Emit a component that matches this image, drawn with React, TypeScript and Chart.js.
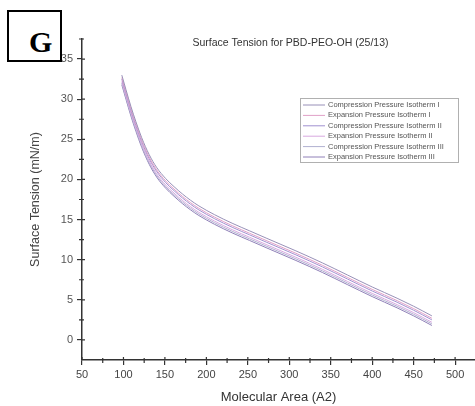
import React, { useEffect, useRef } from "react";
import { Chart, registerables } from "chart.js";

Chart.register(...registerables);

const areas = [98, 103, 109, 115, 122, 131, 140, 151, 161, 171, 181, 191, 210, 232, 252, 272, 290, 308, 340, 370, 400, 430, 450, 472];

const compressionI = [33.0, 31.2, 29.1, 27.2, 25.2, 23.1, 21.5, 20.1, 19.1, 18.2, 17.4, 16.7, 15.6, 14.5, 13.6, 12.7, 11.9, 11.1, 9.6, 8.1, 6.6, 5.2, 4.2, 3.0];
const expansionI = [32.7, 30.9, 28.8, 26.9, 24.9, 22.8, 21.2, 19.8, 18.8, 17.9, 17.1, 16.4, 15.3, 14.2, 13.3, 12.4, 11.6, 10.8, 9.3, 7.8, 6.3, 4.9, 3.9, 2.7];
const compressionII = [32.5, 30.7, 28.6, 26.7, 24.7, 22.6, 21.0, 19.6, 18.6, 17.7, 16.9, 16.2, 15.1, 14.0, 13.1, 12.2, 11.4, 10.6, 9.1, 7.6, 6.1, 4.7, 3.7, 2.5];
const expansionII = [32.2, 30.4, 28.3, 26.4, 24.4, 22.3, 20.7, 19.3, 18.3, 17.4, 16.6, 15.9, 14.8, 13.7, 12.8, 11.9, 11.1, 10.3, 8.8, 7.3, 5.8, 4.4, 3.4, 2.2];
const compressionIII = [32.0, 30.2, 28.1, 26.2, 24.2, 22.1, 20.5, 19.1, 18.1, 17.2, 16.4, 15.7, 14.6, 13.5, 12.6, 11.7, 10.9, 10.1, 8.6, 7.1, 5.6, 4.2, 3.2, 2.0];
const expansionIII = [31.8, 30.0, 27.9, 26.0, 24.0, 21.9, 20.3, 18.9, 17.9, 17.0, 16.2, 15.5, 14.4, 13.3, 12.4, 11.5, 10.7, 9.9, 8.4, 6.9, 5.4, 4.0, 3.0, 1.8];

const seriesLabels = [
  "Compression Pressure Isotherm I",
  "Expansion Pressure Isotherm I",
  "Compression Pressure Isotherm II",
  "Expansion Pressure Isotherm II",
  "Compression Pressure Isotherm III",
  "Expansion Pressure Isotherm III",
];
const seriesValues = [compressionI, expansionI, compressionII, expansionII, compressionIII, expansionIII];
const seriesColors = ["#9890b8", "#e0a0c8", "#a090d0", "#d8a8e0", "#b0b0d0", "#9080b8"];

const xMajorTicks = [50, 100, 150, 200, 250, 300, 350, 400, 450, 500];
const xMinorTicks = [75, 125, 175, 225, 275, 325, 375, 425, 475];
const yMajorTicks = [0, 5, 10, 15, 20, 25, 30, 35];
const yMinorTicks = [2.5, 7.5, 12.5, 17.5, 22.5, 27.5, 32.5, 37.5];

const chartTitle = "Surface Tension for PBD-PEO-OH (25/13)";
const xTitle = "Molecular Area (A2)";
const yTitle = "Surface Tension (mN/m)";

const FONT = "'Liberation Sans', Arial, sans-serif";

const decorPlugin = {
  id: "decor",
  afterDraw(chart: any) {
    const ctx = chart.ctx;
    const { left, right, top, bottom } = chart.chartArea;
    const xs = chart.scales.x;
    const ys = chart.scales.y;
    ctx.save();
    ctx.strokeStyle = "#333";
    ctx.lineWidth = 1.2;
    ctx.beginPath();
    xMajorTicks.forEach((v) => {
      const px = xs.getPixelForValue(v);
      ctx.moveTo(px, bottom);
      ctx.lineTo(px, bottom - 3);
    });
    yMajorTicks.forEach((v) => {
      const py = ys.getPixelForValue(v);
      ctx.moveTo(left, py);
      ctx.lineTo(left + 3, py);
    });
    xMinorTicks.forEach((v) => {
      const px = xs.getPixelForValue(v);
      if (px > right) return;
      ctx.moveTo(px, bottom + 3);
      ctx.lineTo(px, bottom - 2);
    });
    yMinorTicks.forEach((v) => {
      const py = ys.getPixelForValue(v);
      if (py < top - 1) return;
      ctx.moveTo(left - 3, py);
      ctx.lineTo(left + 2, py);
    });
    ctx.stroke();

    ctx.fillStyle = "#333";
    ctx.font = `10.5px ${FONT}`;
    ctx.textAlign = "center";
    ctx.textBaseline = "middle";
    ctx.fillText(chartTitle, (left + right) / 2 + 12, top + 4);

    const lx = right - 175;
    const ly = top + 59;
    const lw = 158;
    const lh = 64;
    ctx.strokeStyle = "#b0b0b0";
    ctx.lineWidth = 1;
    ctx.strokeRect(lx + 0.5, ly + 0.5, lw, lh);
    ctx.font = `7.5px ${FONT}`;
    ctx.textAlign = "left";
    ctx.fillStyle = "#555";
    chart.data.datasets.forEach((ds: any, i: number) => {
      const y = ly + 7 + i * 10.4;
      ctx.strokeStyle = ds.borderColor;
      ctx.beginPath();
      ctx.moveTo(lx + 3, y);
      ctx.lineTo(lx + 25, y);
      ctx.stroke();
      ctx.fillText(ds.label, lx + 28, y);
    });
    ctx.restore();
  },
};

export default function App() {
  const canvasRef = useRef<HTMLCanvasElement | null>(null);

  useEffect(() => {
    const canvas = canvasRef.current;
    if (!canvas) return;
    const chart = new Chart(canvas, {
      type: "line",
      data: {
        labels: areas,
        datasets: seriesLabels.map((label, i) => ({
          label,
          data: seriesValues[i].map((v, j) => ({ x: areas[j], y: v })),
          borderColor: seriesColors[i],
          backgroundColor: seriesColors[i],
          borderWidth: 1,
          pointRadius: 0,
          cubicInterpolationMode: "monotone",
          fill: false,
        })),
      },
      options: {
        responsive: false,
        animation: false,
        layout: { padding: { top: 39, right: 0, left: 0, bottom: 0 } },
        plugins: {
          legend: { display: false },
          title: { display: false },
          tooltip: { enabled: false },
        },
        scales: {
          x: {
            type: "linear",
            min: 50,
            max: 524,
            afterBuildTicks: (scale: any) => {
              scale.ticks = xMajorTicks.map((v) => ({ value: v }));
            },
            afterFit: (scale: any) => {
              scale.height = 46;
            },
            grid: { display: true, drawOnChartArea: false, tickLength: 5, color: "#333", lineWidth: 1.2 },
            border: { display: true, color: "#333", width: 1.5 },
            ticks: {
              font: { family: FONT, size: 11 },
              color: "#444",
              padding: 3,
              maxRotation: 0,
              autoSkip: false,
            },
            title: {
              display: true,
              text: xTitle,
              font: { family: FONT, size: 13 },
              color: "#333",
              padding: { top: 0, bottom: 1 },
            },
          },
          y: {
            type: "linear",
            min: -2.5,
            max: 37.5,
            afterBuildTicks: (scale: any) => {
              scale.ticks = yMajorTicks.map((v) => ({ value: v }));
            },
            afterFit: (scale: any) => {
              scale.width = 82;
            },
            grid: { display: true, drawOnChartArea: false, tickLength: 5, color: "#333", lineWidth: 1.2 },
            border: { display: true, color: "#333", width: 1.5 },
            ticks: {
              font: { family: FONT, size: 11 },
              color: "#555",
              padding: 4,
              autoSkip: false,
            },
            title: {
              display: true,
              text: yTitle,
              font: { family: FONT, size: 12.5 },
              color: "#444",
              padding: { top: 28, bottom: 0 },
            },
          },
        },
      },
      plugins: [decorPlugin],
    } as any);
    return () => chart.destroy();
  }, []);

  return (
    <div style={{ position: "absolute", left: 0, top: 0, width: 475, height: 406, background: "#fff" }}>
      <canvas ref={canvasRef} width={475} height={406} style={{ display: "block" }} />
      <div
        style={{
          position: "absolute",
          left: 7,
          top: 10,
          width: 55,
          height: 52,
          boxSizing: "border-box",
          border: "2px solid #000",
          background: "#fff",
        }}
      />
      <span
        style={{
          position: "absolute",
          left: 29,
          top: 27,
          fontFamily: "'Liberation Serif', 'Times New Roman', serif",
          fontWeight: "bold",
          fontSize: 30,
          lineHeight: 1,
          color: "#000",
        }}
      >
        G
      </span>
    </div>
  );
}
